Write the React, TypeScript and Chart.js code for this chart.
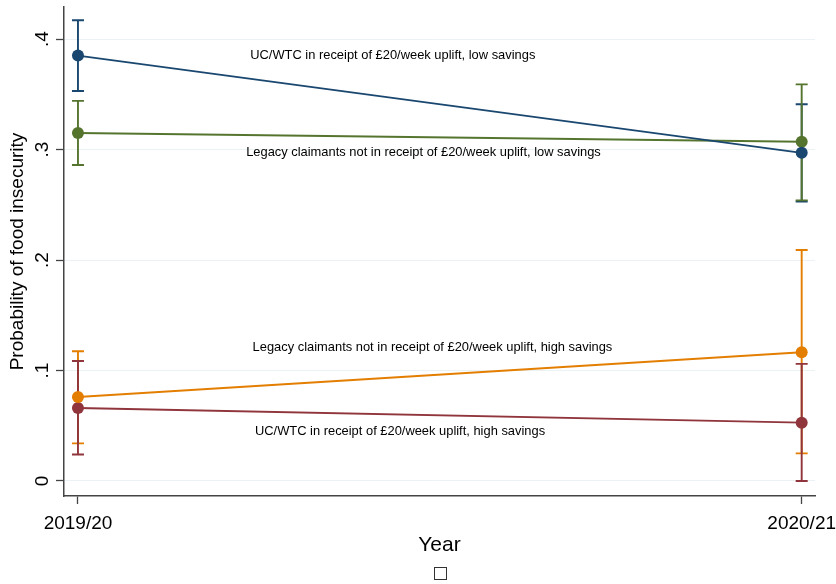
import React, { useEffect, useRef } from 'react';
import { Chart, registerables } from 'chart.js';

Chart.register(...registerables);

// ---- data ----
const categories = ['2019/20', '2020/21'];
const yTickValues = [0, 0.1, 0.2, 0.3, 0.4];

const seriesLabels = [
  'UC/WTC in receipt of £20/week uplift, low savings',
  'Legacy claimants not in receipt of £20/week uplift, low savings',
  'Legacy claimants not in receipt of £20/week uplift, high savings',
  'UC/WTC in receipt of £20/week uplift, high savings',
];

const ucLow = [0.385, 0.297];
const ucLowLower = [0.353, 0.253];
const ucLowUpper = [0.417, 0.341];

const legacyLow = [0.315, 0.307];
const legacyLowLower = [0.286, 0.254];
const legacyLowUpper = [0.344, 0.359];

const legacyHigh = [0.076, 0.1165];
const legacyHighLower = [0.034, 0.025];
const legacyHighUpper = [0.1174, 0.209];

const ucHigh = [0.066, 0.0528];
const ucHighLower = [0.024, 0.0];
const ucHighUpper = [0.1086, 0.106];

// annotation anchors (data coordinates: x = category index, y = probability)
const labelX = [0.435, 0.4774, 0.4898, 0.445];
const labelY = [0.3855, 0.2971, 0.1206, 0.045];

const colors = ['#1a476f', '#55752f', '#e37e00', '#90353b'];
const FONT = "'Liberation Sans', Arial, Helvetica, sans-serif";

const means = [ucLow, legacyLow, legacyHigh, ucHigh];
const lowers = [ucLowLower, legacyLowLower, legacyHighLower, ucHighLower];
const uppers = [ucLowUpper, legacyLowUpper, legacyHighUpper, ucHighUpper];

const overlayPlugin = {
  id: 'overlay',
  beforeDatasetsDraw(chart: any) {
    const { ctx, scales } = chart;
    const xs = scales.x;
    const ys = scales.y;
    ctx.save();
    ctx.lineWidth = 1.9;
    for (let s = 0; s < means.length; s++) {
      ctx.strokeStyle = colors[s];
      for (let i = 0; i < categories.length; i++) {
        const px = xs.getPixelForValue(i);
        const lo = ys.getPixelForValue(lowers[s][i]);
        const hi = ys.getPixelForValue(uppers[s][i]);
        ctx.beginPath();
        ctx.moveTo(px, lo);
        ctx.lineTo(px, hi);
        ctx.moveTo(px - 6, lo);
        ctx.lineTo(px + 6, lo);
        ctx.moveTo(px - 6, hi);
        ctx.lineTo(px + 6, hi);
        ctx.stroke();
      }
    }
    ctx.restore();
  },
  afterDatasetsDraw(chart: any) {
    const { ctx, scales, chartArea } = chart;
    const xs = scales.x;
    const ys = scales.y;
    ctx.save();
    ctx.fillStyle = '#000';
    ctx.font = `12.9px ${FONT}`;
    ctx.textAlign = 'center';
    ctx.textBaseline = 'middle';
    for (let s = 0; s < seriesLabels.length; s++) {
      ctx.fillText(seriesLabels[s], xs.getPixelForValue(labelX[s]), ys.getPixelForValue(labelY[s]));
    }
    // empty legend key
    const cx = (chartArea.left + chartArea.right) / 2;
    ctx.strokeStyle = '#333';
    ctx.lineWidth = 1;
    ctx.strokeRect(Math.round(cx - 6) + 0.5, 567.5, 12, 12);
    ctx.restore();
  },
};

export default function App() {
  const ref = useRef<HTMLCanvasElement | null>(null);
  useEffect(() => {
    if (!ref.current) return;
    const chart = new Chart(ref.current, {
      type: 'line',
      data: {
        datasets: means.map((m, s) => ({
          label: seriesLabels[s],
          data: m.map((v, i) => ({ x: i, y: v })),
          borderColor: colors[s],
          backgroundColor: colors[s],
          pointBackgroundColor: colors[s],
          pointBorderColor: colors[s],
          pointRadius: 6,
          pointBorderWidth: 0,
          borderWidth: 1.9,
          tension: 0,
        })),
      },
      plugins: [overlayPlugin],
      options: {
        animation: false,
        responsive: false,
        events: [],
        layout: { padding: { top: 7, right: 21, left: 0, bottom: 0 } },
        plugins: { legend: { display: false }, tooltip: { enabled: false } },
        scales: {
          x: {
            type: 'linear',
            min: -0.0193,
            max: 1.0184,
            afterBuildTicks: (scale: any) => {
              scale.ticks = categories.map((_, i) => ({ value: i }));
            },
            afterFit: (scale: any) => {
              scale.height = 88;
              scale.paddingLeft = 0;
              scale.paddingRight = 0;
              scale.paddingTop = 0;
              scale.paddingBottom = 0;
            },
            grid: { drawOnChartArea: false, drawTicks: true, tickLength: 8, tickColor: '#444', tickWidth: 1.3 },
            border: { color: '#444', width: 1.5 },
            ticks: {
              color: '#000',
              font: { family: FONT, size: 19 },
              padding: 8,
              maxRotation: 0,
              minRotation: 0,
              autoSkip: false,
              callback: (v: any) => categories[v] ?? '',
            },
            title: {
              display: true,
              text: 'Year',
              color: '#000',
              font: { family: FONT, size: 21 },
              padding: { top: 0, bottom: 26 },
            },
          },
          y: {
            type: 'linear',
            min: -0.0136,
            max: 0.429,
            afterBuildTicks: (scale: any) => {
              scale.ticks = yTickValues.map((v) => ({ value: v }));
            },
            afterFit: (scale: any) => {
              scale.width = 64;
              scale.paddingLeft = 0;
              scale.paddingRight = 0;
              scale.paddingTop = 0;
              scale.paddingBottom = 0;
            },
            grid: { color: '#eaf2f3', lineWidth: 1, drawTicks: true, tickLength: 8, tickColor: '#444', tickWidth: 1.3 },
            border: { color: '#444', width: 1.5 },
            ticks: {
              color: '#000',
              font: { family: FONT, size: 19 },
              padding: 5,
              minRotation: 90,
              maxRotation: 90,
              crossAlign: 'center',
              autoSkip: false,
              callback: (v: any) => (v === 0 ? '0' : '.' + Math.round(v * 10)),
            },
            title: {
              display: true,
              text: 'Probability of food insecurity',
              color: '#000',
              font: { family: FONT, size: 19 },
              padding: { top: 6.5, bottom: 0 },
            },
          },
        },
      },
    } as any);
    return () => chart.destroy();
  }, []);
  return (
    <div style={{ position: 'fixed', left: 0, top: 0, width: 836, height: 584, background: '#fff' }}>
      <canvas ref={ref} width={836} height={584} />
    </div>
  );
}
